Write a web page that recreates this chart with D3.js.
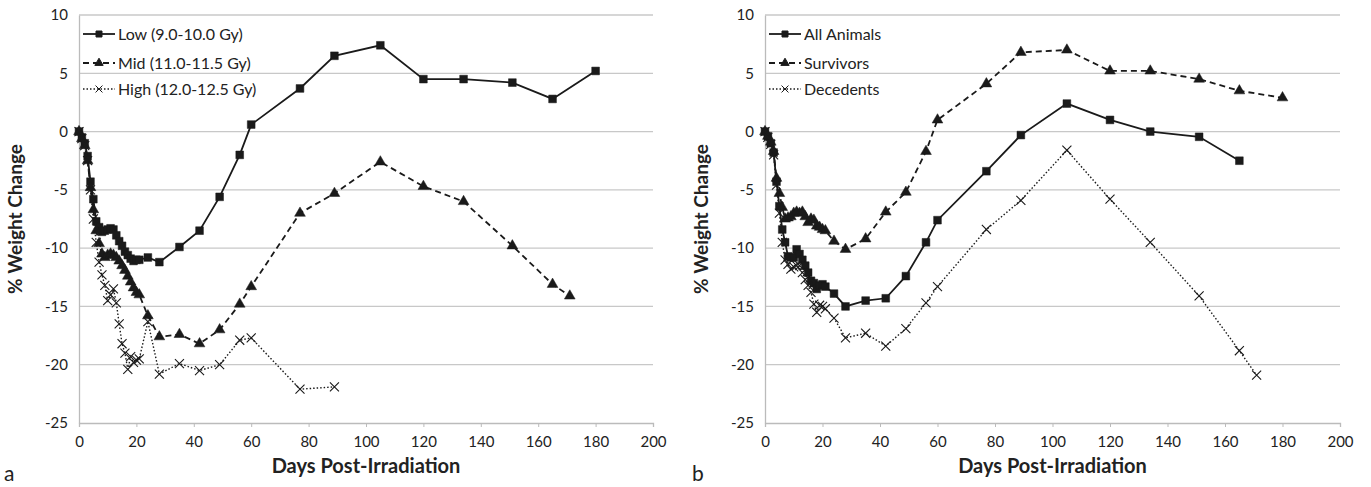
<!DOCTYPE html>
<html>
<head>
<meta charset="utf-8">
<script src="https://cdn.jsdelivr.net/npm/d3@7"></script>
<style>
  body { margin: 0; background: #fff; }
  svg { display: block; }
  text { font-family: Lato, "Open Sans", sans-serif; fill: #222; }
</style>
</head>
<body>
<svg id="chart" width="1371" height="487"></svg>
<script>
// --- data ---
const xTicks = [0, 20, 40, 60, 80, 100, 120, 140, 160, 180, 200];
const yTicks = [10, 5, 0, -5, -10, -15, -20, -25];

const earlyDays = [0, 1, 2, 3, 4, 5, 6, 7, 8, 9, 10, 11, 12, 13, 14, 15, 16, 17, 18, 19, 20, 21, 24, 28, 35, 42, 49, 56, 60];

// panel a
const lowDays = earlyDays.concat([77, 89, 105, 120, 134, 151, 165, 180]);
const lowVals = [0, -0.5, -1.0, -2.1, -4.3, -5.8, -7.7, -8.2, -8.6, -8.5, -8.4, -8.3, -8.4, -8.9, -9.4, -9.8,
  -10.3, -10.6, -10.9, -11.1, -11.0, -11.0, -10.8, -11.2, -9.9, -8.5, -5.6, -2.0, 0.6, 3.7, 6.5, 7.4, 4.5, 4.5, 4.2, 2.8, 5.2];

const midDays = earlyDays.concat([77, 89, 105, 120, 134, 151, 165, 171]);
const midVals = [0, -0.6, -1.2, -2.5, -4.8, -6.7, -8.5, -9.6, -10.5, -10.8, -10.6, -10.5, -10.6, -10.8, -11.1, -11.5,
  -11.9, -12.4, -12.9, -13.4, -13.8, -14.0, -15.8, -17.6, -17.4, -18.2, -17.0, -14.8, -13.3, -7.0, -5.3, -2.6, -4.7, -6.0, -9.8, -13.1, -14.1];

const highDays = earlyDays.concat([77, 89]);
const highVals = [0, -0.6, -1.2, -2.5, -5.0, -7.5, -9.5, -11.2, -12.3, -13.2, -14.5, -14.0, -13.5, -14.7, -16.5, -18.2,
  -19.0, -20.4, -19.3, -19.8, -19.6, -19.5, -16.3, -20.8, -19.9, -20.5, -20.0, -17.9, -17.7, -22.1, -21.9];

// panel b
const allDays = earlyDays.concat([77, 89, 105, 120, 134, 151, 165]);
const allVals = [0, -0.4, -1.0, -1.8, -4.3, -6.4, -8.4, -9.5, -10.7, -10.8, -10.8, -10.1, -10.5, -11.0, -11.5, -12.1,
  -12.8, -13.0, -13.5, -13.2, -13.1, -13.3, -13.9, -15.0, -14.5, -14.3, -12.4, -9.5, -7.6, -3.4, -0.3, 2.4, 1.0, 0.0, -0.45, -2.5];

const survDays = earlyDays.concat([77, 89, 105, 120, 134, 151, 165, 180]);
const survVals = [0, -0.4, -0.9, -1.7, -4.0, -5.3, -6.5, -7.5, -7.4, -7.3, -7.0, -6.9, -7.0, -6.9, -7.3, -7.8,
  -7.5, -7.6, -8.1, -8.2, -8.4, -8.5, -9.4, -10.1, -9.2, -6.9, -5.2, -1.7, 1.0, 4.1, 6.8, 7.0, 5.2, 5.2, 4.5, 3.5, 2.9];

const decDays = earlyDays.concat([77, 89, 105, 120, 134, 151, 165, 171]);
const decVals = [0, -0.5, -1.1, -2.0, -4.6, -7.0, -9.5, -11.0, -11.4, -11.8, -11.6, -11.5, -11.5, -12.1, -12.7, -13.2,
  -13.8, -14.8, -15.5, -14.9, -15.0, -15.2, -16.0, -17.7, -17.3, -18.4, -16.9, -14.7, -13.3, -8.4, -5.9, -1.6, -5.8, -9.5, -14.1, -18.8, -20.9];

const svg = d3.select("#chart");

const styles = {
  square: { dash: null, width: 1.8, symbol: d3.symbolSquare, size: 60 },
  triangle: { dash: "6,4", width: 1.8, symbol: d3.symbolTriangle, size: 50 },
  cross: { dash: "1.5,2", width: 1.4, symbol: d3.symbolX, size: 55 }
};

function drawPanel(opts) {
  const x = d3.scaleLinear().domain([0, 200]).range([opts.left, opts.right]);
  const y = d3.scaleLinear().domain([-25, 10]).range([423, 15]);
  const g = svg.append("g");

  // gridlines
  g.append("g").selectAll("line")
    .data(yTicks.filter(t => t !== -25))
    .join("line")
    .attr("x1", x(0)).attr("x2", x(200))
    .attr("y1", d => y(d)).attr("y2", d => y(d))
    .attr("stroke", "#c8c8c8").attr("stroke-width", 1.3);

  // x axis
  const xAxis = d3.axisBottom(x).tickValues(xTicks).tickSize(4).tickPadding(9).tickFormat(d => String(d));
  const xg = g.append("g").attr("transform", `translate(0,${y(-25)})`).call(xAxis);
  xg.select(".domain").attr("stroke", "#bbb").attr("stroke-width", 1.3);
  xg.selectAll(".tick line").attr("stroke", "#bbb");
  xg.selectAll("text").style("font-size", "15px").attr("fill", "#222");

  // y axis
  const yAxis = d3.axisLeft(y).tickValues(yTicks).tickSize(0).tickPadding(11).tickFormat(d => String(d));
  const yg = g.append("g").attr("transform", `translate(${x(0)},0)`).call(yAxis);
  yg.select(".domain").attr("stroke", "#bbb").attr("stroke-width", 1.3);
  yg.selectAll("text").style("font-size", "15px").attr("fill", "#222");

  // series
  opts.series.forEach(s => {
    const st = styles[s.marker];
    const pts = s.days.map((d, i) => [d, s.vals[i]]);
    g.append("path")
      .datum(pts)
      .attr("fill", "none")
      .attr("stroke", "#1a1a1a")
      .attr("stroke-width", st.width)
      .attr("stroke-dasharray", st.dash)
      .attr("d", d3.line().x(p => x(p[0])).y(p => y(p[1])));
    g.append("g").selectAll("path")
      .data(pts)
      .join("path")
      .attr("transform", p => `translate(${x(p[0])},${y(p[1])})`)
      .attr("d", d3.symbol().type(st.symbol).size(st.size))
      .attr("fill", s.marker === "cross" ? "none" : "#1a1a1a")
      .attr("stroke", "#1a1a1a")
      .attr("stroke-width", s.marker === "cross" ? 1.1 : 0.5);
  });

  // legend
  const legY = [34, 63, 89];
  opts.series.forEach((s, i) => {
    const st = styles[s.marker];
    const lx = x(0) + 4;
    const ly = legY[i];
    g.append("line")
      .attr("x1", lx).attr("x2", lx + 32).attr("y1", ly).attr("y2", ly)
      .attr("stroke", "#1a1a1a").attr("stroke-width", st.width)
      .attr("stroke-dasharray", st.dash);
    g.append("path")
      .attr("transform", `translate(${lx + 16},${ly})`)
      .attr("d", d3.symbol().type(st.symbol).size(st.size * 0.6))
      .attr("fill", s.marker === "cross" ? "none" : "#1a1a1a")
      .attr("stroke", "#1a1a1a").attr("stroke-width", 1);
    g.append("text")
      .attr("x", lx + 35).attr("y", ly).attr("dy", "0.35em")
      .style("font-size", "16px")
      .text(s.name);
  });

  // axis titles
  g.append("text")
    .attr("transform", `translate(${x(0) - 57},${y(-7.5)}) rotate(-90)`)
    .attr("text-anchor", "middle")
    .style("font-size", "19px").style("font-weight", "bold")
    .text("% Weight Change");
  g.append("text")
    .attr("x", x(100)).attr("y", 473)
    .attr("text-anchor", "middle")
    .style("font-size", "20px").style("font-weight", "bold")
    .text("Days Post-Irradiation");
  g.append("text")
    .attr("x", opts.tagX).attr("y", 481)
    .style("font-size", "21px")
    .text(opts.tag);
}

drawPanel({
  left: 79, right: 653, tag: "a", tagX: 4,
  series: [
    { name: "Low (9.0-10.0 Gy)", days: lowDays, vals: lowVals, marker: "square" },
    { name: "Mid (11.0-11.5 Gy)", days: midDays, vals: midVals, marker: "triangle" },
    { name: "High (12.0-12.5 Gy)", days: highDays, vals: highVals, marker: "cross" }
  ]
});

drawPanel({
  left: 765, right: 1340, tag: "b", tagX: 692,
  series: [
    { name: "All Animals", days: allDays, vals: allVals, marker: "square" },
    { name: "Survivors", days: survDays, vals: survVals, marker: "triangle" },
    { name: "Decedents", days: decDays, vals: decVals, marker: "cross" }
  ]
});
</script>
</body>
</html>
